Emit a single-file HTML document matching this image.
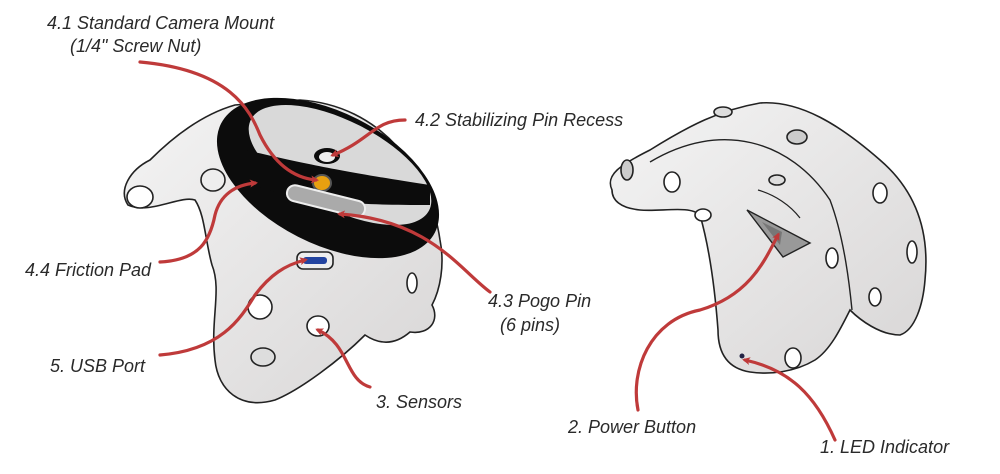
<!DOCTYPE html>
<html><head><style>
body{margin:0;background:#fff}
svg{display:block}
text{font-family:"Liberation Sans",sans-serif;font-style:italic;font-size:18px;fill:#2a2a2a}
.a{fill:none;stroke:#bf3a3a;stroke-width:3.2;stroke-linecap:round}
.b{stroke:#222;stroke-width:1.6}
</style></head><body>
<svg width="1000" height="474" viewBox="0 0 1000 474" xmlns="http://www.w3.org/2000/svg">
<defs>
<marker id="m" markerWidth="8" markerHeight="8" refX="5" refY="4" orient="auto" markerUnits="userSpaceOnUse"><path d="M0,0 L8,4 L0,8 L2,4z" fill="#bf3a3a"/></marker>
<linearGradient id="g" x1="0" y1="0" x2="1" y2="1"><stop offset="0" stop-color="#f4f4f4"/><stop offset="1" stop-color="#d8d6d6"/></linearGradient>
</defs>
<!-- left device -->
<path class="b" fill="url(#g)" d="M128,205 C118,190 130,170 150,160 C170,140 200,115 235,105 L300,100 C380,105 430,170 440,240 C445,265 440,290 432,305 C440,320 430,335 410,332 C395,345 380,345 365,335 C340,360 300,390 275,400 C240,410 218,390 215,360 C210,320 222,290 212,265 C205,240 205,215 195,200 C180,195 150,215 128,205Z"/>
<ellipse cx="140" cy="197" rx="13" ry="11" fill="#fff" class="b"/>
<ellipse cx="213" cy="180" rx="12" ry="11" fill="#eee" class="b"/>
<ellipse cx="328" cy="178" rx="120" ry="66" transform="rotate(27 328 178)" fill="#0c0c0c"/>
<ellipse cx="340" cy="165" rx="100" ry="44" transform="rotate(27 340 165)" fill="#d9d9d9"/>
<path d="M245,150 C290,160 330,170 430,185 L430,205 C330,205 290,200 240,180Z" fill="#0c0c0c"/>
<ellipse cx="327" cy="156" rx="13" ry="8" fill="#0c0c0c"/>
<ellipse cx="327" cy="157" rx="8" ry="5" fill="#eee"/>
<ellipse cx="322" cy="183" rx="9" ry="8" fill="#e8a010" stroke="#555" stroke-width="2"/>
<rect x="286" y="193" width="80" height="16" rx="8" transform="rotate(14 326 201)" fill="#aaa" stroke="#eee" stroke-width="2"/>
<rect x="297" y="252" width="36" height="17" rx="6" fill="#eee" class="b"/>
<rect x="303" y="257" width="24" height="7" rx="3" fill="#2344a0"/>
<ellipse cx="260" cy="307" rx="12" ry="12" fill="#fff" class="b"/>
<ellipse cx="318" cy="326" rx="11" ry="10" fill="#fff" class="b"/>
<ellipse cx="412" cy="283" rx="5" ry="10" fill="#fff" class="b"/>
<ellipse cx="263" cy="357" rx="12" ry="9" fill="#ddd" class="b"/>
<!-- right device -->
<path class="b" fill="url(#g)" d="M612,190 C605,175 620,165 650,150 C690,125 720,110 760,103 C800,100 840,125 880,160 C915,190 930,230 925,280 C923,305 915,330 900,335 C880,335 860,320 850,310 C840,330 830,350 815,360 C795,372 770,375 750,372 C725,368 718,350 718,330 C715,290 710,250 700,215 C690,205 660,212 640,210 C620,208 612,200 612,190Z"/>
<path d="M650,162 C720,120 790,140 830,200 C845,240 850,290 852,310" fill="none" stroke="#222" stroke-width="1.4"/>
<path d="M758,190 C775,195 790,205 800,218" fill="none" stroke="#222" stroke-width="1.2"/>
<path d="M747,210 L810,243 L783,257Z" fill="#999" stroke="#222" stroke-width="1.4"/>
<path d="M762,222 L782,232 L780,245Z" fill="#777"/>
<ellipse cx="627" cy="170" rx="6" ry="10" fill="#ccc" class="b"/>
<ellipse cx="672" cy="182" rx="8" ry="10" fill="#fff" class="b"/>
<ellipse cx="703" cy="215" rx="8" ry="6" fill="#fff" class="b"/>
<ellipse cx="723" cy="112" rx="9" ry="5" fill="#ddd" class="b"/>
<ellipse cx="797" cy="137" rx="10" ry="7" fill="#ccc" class="b"/>
<ellipse cx="777" cy="180" rx="8" ry="5" fill="#ddd" class="b"/>
<ellipse cx="880" cy="193" rx="7" ry="10" fill="#fff" class="b"/>
<ellipse cx="912" cy="252" rx="5" ry="11" fill="#fff" class="b"/>
<ellipse cx="875" cy="297" rx="6" ry="9" fill="#fff" class="b"/>
<ellipse cx="832" cy="258" rx="6" ry="10" fill="#fff" class="b"/>
<ellipse cx="793" cy="358" rx="8" ry="10" fill="#fff" class="b"/>
<circle cx="742" cy="356" r="2.5" fill="#224"/>
<!-- arrows -->
<path class="a" marker-end="url(#m)" d="M140,62 C230,70 250,110 260,135 C275,165 295,178 316,180"/>
<path class="a" marker-end="url(#m)" d="M405,120 C375,120 370,140 333,155"/>
<path class="a" marker-end="url(#m)" d="M490,292 C460,270 430,220 340,214"/>
<path class="a" marker-end="url(#m)" d="M160,262 C200,260 210,240 215,215 C220,195 235,185 255,183"/>
<path class="a" marker-end="url(#m)" d="M160,355 C220,350 240,320 255,295 C270,275 285,265 305,260"/>
<path class="a" marker-end="url(#m)" d="M370,387 C345,380 350,345 318,330"/>
<path class="a" marker-end="url(#m)" d="M638,410 C630,370 650,320 700,310 C750,295 765,260 778,235"/>
<path class="a" marker-end="url(#m)" d="M835,440 C815,395 790,370 745,360"/>
<!-- labels -->
<text x="47" y="29">4.1 Standard Camera Mount</text>
<text x="70" y="52">(1/4" Screw Nut)</text>
<text x="415" y="126">4.2 Stabilizing Pin Recess</text>
<text x="25" y="276">4.4 Friction Pad</text>
<text x="488" y="307">4.3 Pogo Pin</text>
<text x="500" y="331">(6 pins)</text>
<text x="50" y="372">5. USB Port</text>
<text x="376" y="408">3. Sensors</text>
<text x="568" y="433">2. Power Button</text>
<text x="820" y="453">1. LED Indicator</text>
</svg>
</body></html>
